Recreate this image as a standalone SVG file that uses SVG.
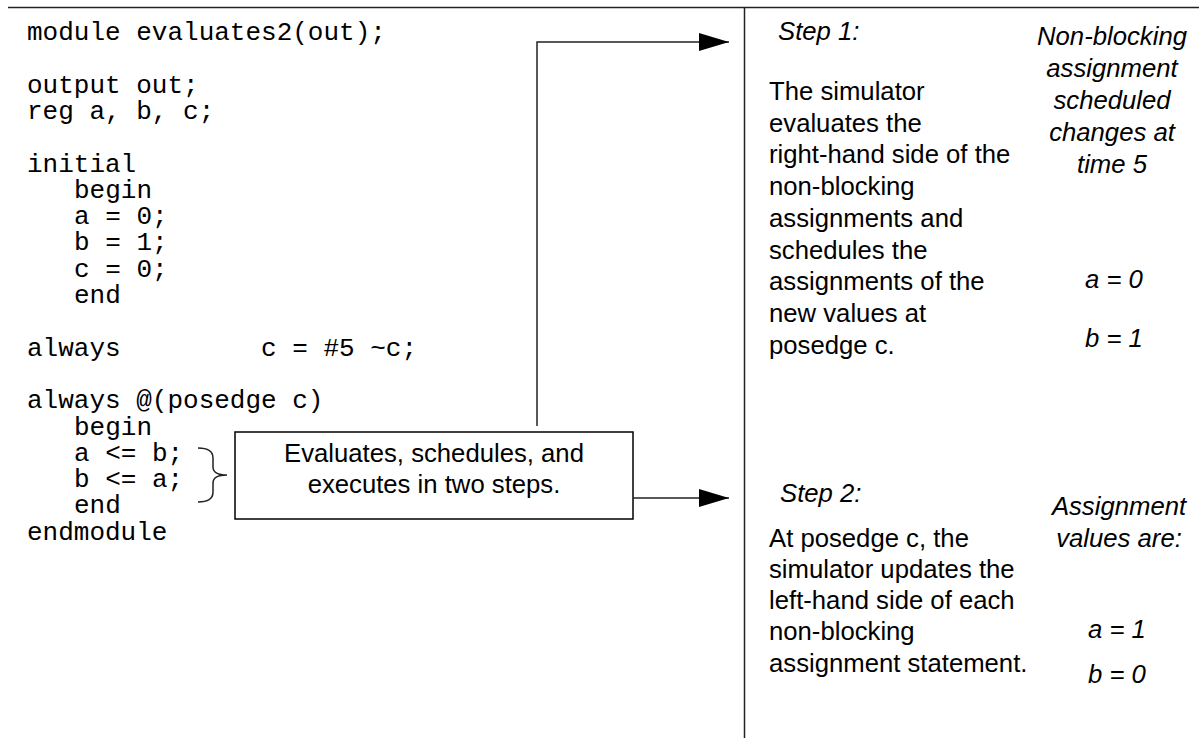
<svg xmlns="http://www.w3.org/2000/svg" width="1199" height="740" viewBox="0 0 1199 740">
<style>
.code{font-family:"Liberation Mono","Courier New",monospace;font-size:26px;fill:#000}
.t{font-family:"Liberation Sans",Arial,sans-serif;font-size:25.7px;fill:#000}
.i{font-family:"Liberation Sans",Arial,sans-serif;font-size:25.7px;font-style:italic;fill:#000}
.c{text-anchor:middle}
.ln{stroke:#222;stroke-width:1.5;fill:none}
</style>
<defs>
<marker id="ah" markerWidth="30" markerHeight="18" refX="30" refY="9" orient="auto" markerUnits="userSpaceOnUse">
<path d="M0,0 L30,9 L0,18 Z" fill="#000"/>
</marker>
</defs>
<rect width="1199" height="740" fill="#fff"/>
<g id="frame">
<line class="ln" x1="8" y1="7.5" x2="1199" y2="7.5"/>
<line class="ln" x1="744.5" y1="7" x2="744.5" y2="738"/>
</g>
<g id="code">
<text class="code" x="27" y="40">module evaluates2(out);</text>
<text class="code" x="27" y="92.6">output out;</text>
<text class="code" x="27" y="118.9">reg a, b, c;</text>
<text class="code" x="27" y="171.5">initial</text>
<text class="code" x="74" y="197.8">begin</text>
<text class="code" x="74" y="224.1">a = 0;</text>
<text class="code" x="74" y="250.4">b = 1;</text>
<text class="code" x="74" y="276.7">c = 0;</text>
<text class="code" x="74" y="303">end</text>
<text class="code" x="27" y="355.6">always</text>
<text class="code" x="261" y="355.6">c = #5 ~c;</text>
<text class="code" x="27" y="408.2">always @(posedge c)</text>
<text class="code" x="74" y="434.5">begin</text>
<text class="code" x="74" y="460.8">a &lt;= b;</text>
<text class="code" x="74" y="487.1">b &lt;= a;</text>
<text class="code" x="74" y="513.4">end</text>
<text class="code" x="27" y="539.7">endmodule</text>
<path class="ln" d="M198,448 Q213,448 213,458 L213,467 Q213,475 227,475 Q213,475 213,483 L213,492 Q213,502 198,502"/>
</g>
<g id="box">
<rect x="235" y="432" width="398" height="87" fill="#fff" stroke="#000" stroke-width="1.5"/>
<text class="t c" x="434" y="462">Evaluates, schedules, and</text>
<text class="t c" x="434" y="493">executes in two steps.</text>
</g>
<g id="connectors">
<path class="ln" d="M537,426 L537,42 L729,42" marker-end="url(#ah)"/>
<path class="ln" d="M633,498 L729,498" marker-end="url(#ah)"/>
</g>
<g id="step1">
<text class="i" x="778" y="40">Step 1:</text>
<text class="t" x="769" y="100">The simulator</text>
<text class="t" x="769" y="131.7">evaluates the</text>
<text class="t" x="769" y="163.4">right-hand side of the</text>
<text class="t" x="769" y="195.1">non-blocking</text>
<text class="t" x="769" y="226.8">assignments and</text>
<text class="t" x="769" y="258.5">schedules the</text>
<text class="t" x="769" y="290.2">assignments of the</text>
<text class="t" x="769" y="321.9">new values at</text>
<text class="t" x="769" y="353.6">posedge c.</text>
<text class="i c" x="1112" y="45">Non-blocking</text>
<text class="i c" x="1112" y="77">assignment</text>
<text class="i c" x="1112" y="109">scheduled</text>
<text class="i c" x="1112" y="141">changes at</text>
<text class="i c" x="1112" y="173">time 5</text>
<text class="i c" x="1114" y="288">a = 0</text>
<text class="i c" x="1114" y="347">b = 1</text>
</g>
<g id="step2">
<text class="i" x="780" y="502">Step 2:</text>
<text class="t" x="769" y="546.5">At posedge c, the</text>
<text class="t" x="769" y="577.8">simulator updates the</text>
<text class="t" x="769" y="609.1">left-hand side of each</text>
<text class="t" x="769" y="640.4">non-blocking</text>
<text class="t" x="769" y="671.7">assignment statement.</text>
<text class="i c" x="1119" y="515">Assignment</text>
<text class="i c" x="1119" y="547">values are:</text>
<text class="i c" x="1117" y="638">a = 1</text>
<text class="i c" x="1117" y="683">b = 0</text>
</g>
</svg>
